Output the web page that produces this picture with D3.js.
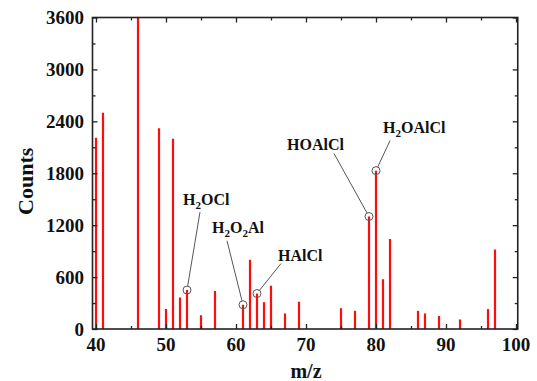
<!DOCTYPE html>
<html>
<head>
<meta charset="utf-8">
<script src="https://cdn.jsdelivr.net/npm/d3@7"></script>
<style>
  html, body { margin: 0; padding: 0; background: #fff; }
  svg { display: block; }
  text { font-family: "Liberation Serif", "Times New Roman", "DejaVu Serif", serif; font-weight: bold; fill: #111; }
</style>
</head>
<body>
<svg id="chart" width="537" height="381"></svg>
<script>
// ---- data ----
const mz = [40, 41, 46, 49, 50, 51, 52, 53, 55, 57, 61, 62, 63, 64, 65, 67, 69, 75, 77, 79, 80, 81, 82, 86, 87, 89, 92, 96, 97];
const counts = [2210, 2500, 3600, 2320, 230, 2200, 365, 450, 160, 440, 280, 800, 410, 310, 500, 180, 315, 240, 210, 1300, 1830, 575, 1040, 210, 180, 150, 110, 230, 920];
const xTicks = [40, 50, 60, 70, 80, 90, 100];
const yTicks = [0, 600, 1200, 1800, 2400, 3000, 3600];
const annoMz = [53, 61, 63, 79, 80];
// label parts: [text, isSubscript]
const annoLabels = [
  [["H", 0], ["2", 1], ["OCl", 0]],
  [["H", 0], ["2", 1], ["O", 0], ["2", 1], ["Al", 0]],
  [["HAlCl", 0]],
  [["HOAlCl", 0]],
  [["H", 0], ["2", 1], ["OAlCl", 0]]
];
const xTitle = "m/z";
const yTitle = "Counts";

// ---- layout ----
const svg = d3.select("#chart");
const L = 92.5, R = 517.75, T = 17.5, B = 329;
const x = d3.scaleLinear().domain([39.5, 100.25]).range([L, R]);
const y = d3.scaleLinear().domain([0, 3600]).range([B, T]);

svg.append("clipPath").attr("id", "plotclip")
  .append("rect").attr("x", L).attr("y", T).attr("width", R - L).attr("height", B - T);

// bars
svg.append("g").attr("clip-path", "url(#plotclip)")
  .selectAll("line").data(mz).join("line")
  .attr("x1", d => x(d)).attr("x2", d => x(d))
  .attr("y1", y(0)).attr("y2", (d, i) => y(counts[i]))
  .attr("stroke", "#ff0d0d").attr("stroke-width", 2.2);

// axes (ticks inward, mirrored)
const axisColor = "#222";
function styleAxis(g) {
  g.select(".domain").remove();
  g.selectAll(".tick line").attr("stroke", axisColor).attr("stroke-width", 1.3);
  g.selectAll(".tick text").remove();
}
const xMinor = d3.range(45, 100, 10);
const yMinor = d3.range(300, 3600, 600);

svg.append("g").attr("transform", `translate(0,${B})`)
  .call(d3.axisTop(x).tickValues(xTicks).tickSize(5)).call(styleAxis);
svg.append("g").attr("transform", `translate(0,${B})`)
  .call(d3.axisTop(x).tickValues(xMinor).tickSize(3)).call(styleAxis);
svg.append("g").attr("transform", `translate(0,${T})`)
  .call(d3.axisBottom(x).tickValues(xTicks).tickSize(5)).call(styleAxis);
svg.append("g").attr("transform", `translate(0,${T})`)
  .call(d3.axisBottom(x).tickValues(xMinor).tickSize(3)).call(styleAxis);
svg.append("g").attr("transform", `translate(${L},0)`)
  .call(d3.axisRight(y).tickValues(yTicks).tickSize(5)).call(styleAxis);
svg.append("g").attr("transform", `translate(${L},0)`)
  .call(d3.axisRight(y).tickValues(yMinor).tickSize(3)).call(styleAxis);
svg.append("g").attr("transform", `translate(${R},0)`)
  .call(d3.axisLeft(y).tickValues(yTicks).tickSize(5)).call(styleAxis);
svg.append("g").attr("transform", `translate(${R},0)`)
  .call(d3.axisLeft(y).tickValues(yMinor).tickSize(3)).call(styleAxis);

// frame
svg.append("rect").attr("x", L).attr("y", T).attr("width", R - L).attr("height", B - T)
  .attr("fill", "none").attr("stroke", axisColor).attr("stroke-width", 1.6);

// tick labels
svg.append("g").selectAll("text").data(xTicks).join("text")
  .attr("x", d => x(d)).attr("y", 351)
  .attr("text-anchor", "middle").attr("font-size", 19).text(d => d);
svg.append("g").selectAll("text").data(yTicks).join("text")
  .attr("x", 84).attr("y", d => y(d)).attr("dy", "0.35em")
  .attr("text-anchor", "end").attr("font-size", 19).text(d => d);

// axis titles
svg.append("text").attr("x", x(70)).attr("y", 378)
  .attr("text-anchor", "middle").attr("font-size", 20).text(xTitle);
svg.append("text").attr("transform", `translate(33,${(T + B) / 2 + 8}) rotate(-90)`)
  .attr("text-anchor", "middle").attr("font-size", 22).text(yTitle);

// annotations: offsets (text position & leader start) relative to the marked point
const annoLayout = [
  { tx: -4, ty: -85, lx: 13, ly: -78 },
  { tx: -31, ty: -72, lx: -16, ly: -64 },
  { tx: 21, ty: -33, lx: 24, ly: -30 },
  { tx: -82, ty: -67, lx: -35, ly: -63 },
  { tx: 7, ty: -38, lx: 14, ly: -30 }
];
const r = 4;
const ag = svg.append("g");
annoMz.forEach((m, i) => {
  const cx = x(m), cy = y(counts[mz.indexOf(m)]);
  const lay = annoLayout[i];
  ag.append("circle").attr("cx", cx).attr("cy", cy).attr("r", r)
    .attr("fill", "none").attr("stroke", "#555").attr("stroke-width", 1);
  const sx = cx + lay.lx, sy = cy + lay.ly;
  const dx = cx - sx, dy = cy - sy, len = Math.hypot(dx, dy);
  ag.append("line").attr("x1", sx).attr("y1", sy)
    .attr("x2", cx - dx / len * r).attr("y2", cy - dy / len * r)
    .attr("stroke", "#555").attr("stroke-width", 1);
  const t = ag.append("text").attr("x", cx + lay.tx).attr("y", cy + lay.ty).attr("font-size", 16);
  let shifted = false;
  annoLabels[i].forEach(([s, sub]) => {
    const sp = t.append("tspan").text(s);
    if (sub && !shifted) { sp.attr("dy", 4).attr("font-size", 11); shifted = true; }
    else if (sub && shifted) { sp.attr("font-size", 11); }
    else if (!sub && shifted) { sp.attr("dy", -4); shifted = false; }
  });
});
</script>
</body>
</html>
